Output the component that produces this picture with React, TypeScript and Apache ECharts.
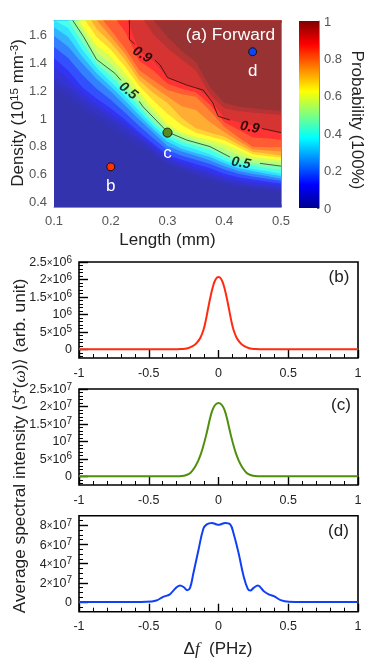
import React, { useEffect, useRef } from "react";
import * as echarts from "echarts";

const FONT = '"Liberation Sans", Arial, sans-serif';

// Panel (a): length columns, and for every probability level the density at which it is reached
const LENGTHS = [0.1, 0.125, 0.15, 0.175, 0.2, 0.225, 0.25, 0.275, 0.3, 0.325, 0.35, 0.375, 0.4, 0.425, 0.45, 0.475, 0.5];
const LEVEL_VALUES = [0.02, 0.035, 0.05, 0.09, 0.13, 0.19, 0.25, 0.31, 0.37, 0.43, 0.5, 0.55, 0.6, 0.65, 0.7, 0.75, 0.8, 0.85, 0.9, 0.95, 0.98];
const L02 = [1.22, 1.14, 1.06, 0.99, 0.93, 0.86, 0.8, 0.73, 0.66, 0.62, 0.58, 0.55, 0.52, 0.5, 0.49, 0.48, 0.47];
const L035 = [1.26, 1.18, 1.1, 1.03, 0.97, 0.9, 0.83, 0.76, 0.68, 0.64, 0.6, 0.57, 0.54, 0.52, 0.505, 0.495, 0.485];
const L05 = [1.3, 1.22, 1.14, 1.07, 1.0, 0.93, 0.855, 0.78, 0.7, 0.66, 0.625, 0.595, 0.56, 0.535, 0.52, 0.51, 0.5];
const L09 = [1.37, 1.28, 1.18, 1.1, 1.03, 0.96, 0.88, 0.8, 0.72, 0.68, 0.645, 0.615, 0.58, 0.555, 0.54, 0.53, 0.515];
const L13 = [1.43, 1.34, 1.22, 1.14, 1.07, 0.99, 0.9, 0.815, 0.735, 0.7, 0.67, 0.64, 0.6, 0.575, 0.56, 0.545, 0.53];
const L19 = [1.51, 1.43, 1.31, 1.21, 1.13, 1.04, 0.945, 0.855, 0.77, 0.73, 0.7, 0.67, 0.63, 0.6, 0.58, 0.565, 0.55];
const L25 = [1.59, 1.51, 1.39, 1.28, 1.19, 1.09, 0.99, 0.895, 0.8, 0.76, 0.73, 0.695, 0.655, 0.62, 0.6, 0.585, 0.565];
const L31 = [1.65, 1.58, 1.44, 1.32, 1.225, 1.125, 1.02, 0.92, 0.83, 0.78, 0.75, 0.72, 0.675, 0.64, 0.62, 0.6, 0.585];
const L37 = [1.7, 1.645, 1.49, 1.36, 1.26, 1.16, 1.05, 0.945, 0.855, 0.805, 0.775, 0.74, 0.695, 0.66, 0.635, 0.62, 0.6];
const L43 = [1.8, 1.7, 1.54, 1.39, 1.3, 1.195, 1.08, 0.97, 0.88, 0.83, 0.8, 0.77, 0.72, 0.68, 0.66, 0.64, 0.63];
const L50 = [1.9, 1.75, 1.59, 1.42, 1.34, 1.23, 1.11, 1.0, 0.9, 0.855, 0.825, 0.795, 0.745, 0.705, 0.68, 0.665, 0.655];
const L55 = [1.95, 1.8, 1.63, 1.47, 1.39, 1.275, 1.15, 1.035, 0.93, 0.88, 0.845, 0.815, 0.78, 0.735, 0.7, 0.69, 0.68];
const L60 = [2.0, 1.85, 1.66, 1.52, 1.44, 1.32, 1.19, 1.07, 0.957, 0.9, 0.866, 0.84, 0.814, 0.77, 0.723, 0.71, 0.7];
const L65 = [2.05, 1.9, 1.73, 1.58, 1.49, 1.37, 1.23, 1.125, 1.03, 0.95, 0.895, 0.867, 0.84, 0.79, 0.74, 0.727, 0.715];
const L70 = [2.1, 1.95, 1.8, 1.64, 1.54, 1.42, 1.27, 1.18, 1.107, 1.0, 0.926, 0.895, 0.866, 0.81, 0.758, 0.745, 0.73];
const L75 = [2.15, 2.0, 1.86, 1.7, 1.585, 1.46, 1.305, 1.225, 1.155, 1.085, 1.057, 0.97, 0.9, 0.835, 0.776, 0.767, 0.76];
const L80 = [2.2, 2.05, 1.92, 1.76, 1.63, 1.5, 1.344, 1.27, 1.2, 1.17, 1.153, 1.05, 0.937, 0.86, 0.794, 0.79, 0.79];
const L85 = [2.3, 2.12, 2.0, 1.88, 1.76, 1.62, 1.41, 1.34, 1.245, 1.21, 1.185, 1.095, 0.97, 0.915, 0.86, 0.855, 0.845];
const L90 = [2.4, 2.2, 2.1, 2.0, 1.9, 1.75, 1.48, 1.41, 1.29, 1.25, 1.22, 1.14, 1.0, 0.97, 0.945, 0.92, 0.895];
const L95 = [2.6, 2.5, 2.4, 2.3, 2.2, 2.0, 1.75, 1.6, 1.5, 1.42, 1.34, 1.17, 1.07, 1.05, 1.04, 1.03, 1.02];
const L98 = [2.7, 2.6, 2.5, 2.4, 2.3, 2.1, 1.85, 1.7, 1.58, 1.48, 1.4, 1.22, 1.11, 1.08, 1.07, 1.06, 1.05];
const LEVEL_TABLE = [L02, L035, L05, L09, L13, L19, L25, L31, L37, L43, L50, L55, L60, L65, L70, L75, L80, L85, L90, L95, L98];

const CONTOUR_05 = [[0.133, 1.7], [0.152, 1.583], [0.175, 1.42], [0.2075, 1.32], [0.218, 1.27], [null, null], [0.25, 1.12], [0.257, 1.08], [0.3, 0.9], [0.334, 0.842], [0.375, 0.795], [0.41, 0.72], [null, null], [0.463, 0.675], [0.5, 0.655]];
const CONTOUR_09 = [[0.233, 1.7], [0.233, 1.564], [0.242, 1.53], [null, null], [0.278, 1.415], [0.287, 1.38], [0.3, 1.29], [0.334, 1.236], [0.363, 1.2], [0.38, 1.107], [0.389, 1.013], [0.41, 0.985], [null, null], [0.466, 0.925], [0.5, 0.895]];
const CONTOUR_LABELS = [
  { value: [0.232, 1.2], name: "0.5", rot: -38 },
  { value: [0.2563, 1.46], name: "0.9", rot: -32 },
  { value: [0.43, 0.685], name: "0.5", rot: -10 },
  { value: [0.4455, 0.94], name: "0.9", rot: -10 },
];
const POINTS = [
  { value: [0.2, 0.65], name: "b", color: "#ff3300", size: 8 },
  { value: [0.3, 0.895], name: "c", color: "#5a8a1e", size: 9 },
  { value: [0.45, 1.475], name: "d", color: "#0a46f5", size: 8 },
];

const DENSITY_TICKS = [0.4, 0.6, 0.8, 1, 1.2, 1.4, 1.6];

const JET_STOPS = [
  [0, 0, 0, 143], [0.125, 0, 0, 255], [0.375, 0, 255, 255],
  [0.625, 255, 255, 0], [0.875, 255, 0, 0], [1, 128, 0, 0],
];

// Panels (b), (c), (d)
const B_F = [-1, -0.5, -0.3, -0.265, -0.228, -0.2, -0.17, -0.156, -0.13, -0.108, -0.09, -0.072, -0.055, -0.036, -0.018, 0, 0.018, 0.036, 0.055, 0.072, 0.09, 0.108, 0.13, 0.156, 0.17, 0.2, 0.228, 0.265, 0.3, 0.5, 1];
const B_S = [0, 0, 0.002e6, 0.006e6, 0.02e6, 0.06e6, 0.13e6, 0.18e6, 0.33e6, 0.55e6, 0.85e6, 1.22e6, 1.55e6, 1.85e6, 2.02e6, 2.07e6, 2.02e6, 1.85e6, 1.55e6, 1.22e6, 0.85e6, 0.55e6, 0.33e6, 0.18e6, 0.13e6, 0.06e6, 0.02e6, 0.006e6, 0.002e6, 0, 0];
const C_F = [-1, -0.5, -0.3, -0.265, -0.23, -0.2, -0.17, -0.145, -0.13, -0.115, -0.09, -0.072, -0.06, -0.04, -0.02, 0, 0.02, 0.04, 0.06, 0.072, 0.09, 0.115, 0.13, 0.145, 0.17, 0.2, 0.23, 0.265, 0.3, 0.5, 1];
const C_S = [0, 0, 0, 0.05e6, 0.35e6, 1e6, 2.6e6, 4.5e6, 6e6, 7.8e6, 11.5e6, 14.6e6, 16.7e6, 19.3e6, 20.6e6, 21e6, 20.6e6, 19.3e6, 16.7e6, 14.6e6, 11.5e6, 7.8e6, 6e6, 4.5e6, 2.6e6, 1e6, 0.35e6, 0.05e6, 0, 0, 0];
const D_F = [-1, -0.7, -0.517, -0.445, -0.397, -0.349, -0.313, -0.276, -0.248, -0.224, -0.204, -0.18, -0.144, -0.108, -0.084, -0.048, -0.012, 0, 0.012, 0.048, 0.084, 0.108, 0.144, 0.18, 0.21, 0.228, 0.252, 0.281, 0.325, 0.36, 0.397, 0.445, 0.505, 0.7, 1];
const D_S = [0, 0, 0.03e7, 0.17e7, 0.55e7, 0.8e7, 1.37e7, 1.72e7, 1.55e7, 1.24e7, 1.48e7, 3e7, 5.4e7, 7.66e7, 8.1e7, 8.25e7, 8.08e7, 8.05e7, 8.08e7, 8.25e7, 8.1e7, 7.15e7, 5.1e7, 2.7e7, 1.37e7, 1.2e7, 1.48e7, 1.72e7, 1.13e7, 0.8e7, 0.62e7, 0.2e7, 0.03e7, 0, 0];

const B_TICKS = [0, 5e5, 1e6, 1.5e6, 2e6, 2.5e6];
const B_MINOR = [-2e5, -1e5, 1e5, 2e5, 3e5, 4e5, 6e5, 7e5, 8e5, 9e5, 1.1e6, 1.2e6, 1.3e6, 1.4e6, 1.6e6, 1.7e6, 1.8e6, 1.9e6, 2.1e6, 2.2e6, 2.3e6, 2.4e6];
const C_TICKS = [0, 5e6, 1e7, 1.5e7, 2e7, 2.5e7];
const C_MINOR = [-2e6, -1e6, 1e6, 2e6, 3e6, 4e6, 6e6, 7e6, 8e6, 9e6, 1.1e7, 1.2e7, 1.3e7, 1.4e7, 1.6e7, 1.7e7, 1.8e7, 1.9e7, 2.1e7, 2.2e7, 2.3e7, 2.4e7];
const D_TICKS = [0, 2e7, 4e7, 6e7, 8e7];
const D_MINOR = [-0.5e7, 0.5e7, 1e7, 1.5e7, 2.5e7, 3e7, 3.5e7, 4.5e7, 5e7, 5.5e7, 6.5e7, 7e7, 7.5e7, 8.5e7];

function jet(v: number): number[] {
  for (let i = 1; i < JET_STOPS.length; i++) {
    const a = JET_STOPS[i - 1], b = JET_STOPS[i];
    if (v <= b[0]) {
      const t = (v - a[0]) / (b[0] - a[0]);
      return [1, 2, 3].map((k) => a[k] + (b[k] - a[k]) * t);
    }
  }
  return JET_STOPS[JET_STOPS.length - 1].slice(1);
}
const rgb = (c: number[]) => `rgb(${c.map((x) => Math.round(x)).join(",")})`;
// the map is painted at 80% over white
const faded = (v: number) => rgb(jet(v).map((x) => x * 0.8 + 255 * 0.2));

function sciLabel(v: number) {
  if (v === 0) return "{b|0}";
  const e = Math.floor(Math.log10(v) + 1e-9);
  const m = Math.round((v / Math.pow(10, e)) * 10) / 10;
  return m === 1 ? `{b|10}{s|${e}}` : `{b|${m}}{x|×}{b|10}{s|${e}}`;
}
const SCI_RICH = {
  b: { fontFamily: FONT, fontSize: 12.5, color: "#222" },
  x: { fontFamily: FONT, fontSize: 10, color: "#222" },
  s: { fontFamily: FONT, fontSize: 10, color: "#222", padding: [0, 0, 6, 0] },
};

const PLOTS = [
  { top: 262, min: -2.5e5, max: 2.5e6, f: B_F, s: B_S, ticks: B_TICKS, minor: B_MINOR, color: "#ff2a10" },
  { top: 389, min: -2.5e6, max: 2.5e7, f: C_F, s: C_S, ticks: C_TICKS, minor: C_MINOR, color: "#4f8f0c" },
  { top: 515.7, min: -1e7, max: 9e7, f: D_F, s: D_S, ticks: D_TICKS, minor: D_MINOR, color: "#1040f5" },
];

function buildOption() {
  const grid: any[] = [
    { left: 54, top: 20.5, width: 227, height: 186.5 },
    { left: 299, top: 21, width: 20, height: 187 },
  ];
  const GREY = "#8e8e8e";
  const TXT = "#555";
  const xAxis: any[] = [
    {
      gridIndex: 0, type: "value", min: 0.1, max: 0.5, interval: 0.1, position: "bottom",
      axisLine: { show: true, onZero: false, lineStyle: { color: GREY, width: 1 } },
      axisTick: { show: true, inside: true, length: 2.5, lineStyle: { color: "#666" } },
      axisLabel: { color: TXT, fontFamily: FONT, fontSize: 13, margin: 7, showMaxLabel: true, showMinLabel: true, formatter: (v: number) => v.toFixed(1) },
      splitLine: { show: false },
    },
    {
      gridIndex: 0, type: "value", min: 0.1, max: 0.5, interval: 0.1, position: "top",
      axisLine: { show: true, onZero: false, lineStyle: { color: GREY, width: 1 } },
      axisTick: { show: true, inside: true, length: 2.5, lineStyle: { color: "#666" } },
      axisLabel: { show: false }, splitLine: { show: false },
    },
    { gridIndex: 1, type: "category", data: ["Probability"], show: false },
  ];
  const yAxis: any[] = [
    {
      gridIndex: 0, type: "value", min: 0.362, max: 1.699, position: "left",
      axisLine: { show: true, onZero: false, lineStyle: { color: GREY, width: 1 } },
      axisTick: { show: true, inside: true, length: 2.5, customValues: DENSITY_TICKS, lineStyle: { color: "#666" } },
      axisLabel: { color: TXT, fontFamily: FONT, fontSize: 13, margin: 7, customValues: DENSITY_TICKS, formatter: (v: number) => String(Math.round(v * 10) / 10) },
      splitLine: { show: false },
    },
    {
      gridIndex: 0, type: "value", min: 0.362, max: 1.699, position: "right",
      axisLine: { show: true, onZero: false, lineStyle: { color: GREY, width: 1 } },
      axisTick: { show: true, inside: true, length: 2.5, customValues: DENSITY_TICKS, lineStyle: { color: "#666" } },
      axisLabel: { show: false }, splitLine: { show: false },
    },
    {
      gridIndex: 1, type: "value", min: 0, max: 1, interval: 0.2, position: "right",
      axisLine: { show: true, onZero: false, lineStyle: { color: GREY, width: 1 } },
      axisTick: { show: true, inside: true, length: 2, lineStyle: { color: "#666" } },
      axisLabel: { color: TXT, fontFamily: FONT, fontSize: 13, margin: 5, formatter: (v: number) => String(Math.round(v * 10) / 10) },
      splitLine: { show: false },
    },
  ];
  const series: any[] = [
    {
      type: "custom", coordinateSystem: "cartesian2d", xAxisIndex: 0, yAxisIndex: 0, clip: true, silent: true,
      data: [-1, ...LEVEL_VALUES.map((_, i) => i)].map((k) => [k, k]),
      encode: { x: 0, y: 1 },
      renderItem: (params: any, api: any) => {
        const k = params.dataIndex - 1;
        if (k < 0) {
          const p0 = api.coord([0.1, 0.362]);
          const p1 = api.coord([0.5, 1.699]);
          return { type: "rect", shape: { x: p0[0], y: p1[1], width: p1[0] - p0[0], height: p0[1] - p1[1] }, style: { fill: faded(0.012) } };
        }
        const row = LEVEL_TABLE[k];
        const pts = LENGTHS.map((x, i) => api.coord([x, row[i]]));
        pts.push(api.coord([0.5, 3]));
        pts.push(api.coord([0.1, 3]));
        const next = LEVEL_VALUES[k + 1];
        const val = next === undefined ? 1 : (LEVEL_VALUES[k] + next) / 2;
        return { type: "polygon", shape: { points: pts }, style: { fill: faded(val) } };
      },
    },
    {
      type: "line", xAxisIndex: 0, yAxisIndex: 0, data: CONTOUR_05, showSymbol: false, symbol: "none", silent: true,
      lineStyle: { color: "#2c3a2c", width: 0.8 }, connectNulls: false, clip: true,
    },
    {
      type: "line", xAxisIndex: 0, yAxisIndex: 0, data: CONTOUR_09, showSymbol: false, symbol: "none", silent: true,
      lineStyle: { color: "#2a1010", width: 0.8 }, connectNulls: false, clip: true,
    },
    {
      type: "scatter", xAxisIndex: 0, yAxisIndex: 0, symbolSize: 0, silent: true,
      data: CONTOUR_LABELS.map((d) => ({
        value: d.value, name: d.name,
        label: { show: true, position: "inside", formatter: "{b}", rotate: d.rot, color: "#000", fontFamily: FONT, fontSize: 14, fontWeight: "bold", fontStyle: "italic" },
      })),
    },
    {
      type: "scatter", xAxisIndex: 0, yAxisIndex: 0, silent: true, z: 5,
      data: POINTS.map((d) => ({
        value: d.value, name: d.name, symbolSize: d.size,
        itemStyle: { color: d.color, borderColor: "#111", borderWidth: 1, opacity: 1 },
        label: { show: true, position: "bottom", distance: 6, formatter: "{b}", color: "#fff", fontFamily: FONT, fontSize: 17 },
      })),
    },
    {
      type: "bar", xAxisIndex: 2, yAxisIndex: 2, data: [1], barWidth: "100%", silent: true,
      itemStyle: {
        color: new echarts.graphic.LinearGradient(0, 1, 0, 0, JET_STOPS.map((s) => ({ offset: s[0], color: rgb(s.slice(1)) }))),
      },
    },
  ];

  PLOTS.forEach((p) => {
    const g = grid.length;
    grid.push({ left: 79, top: p.top, width: 279, height: 96, show: true, borderColor: "#000", borderWidth: 1.6, backgroundColor: "#fff" });
    const xi = xAxis.length;
    xAxis.push({
      gridIndex: g, type: "value", min: -1, max: 1, interval: 0.5, position: "bottom",
      axisLine: { show: false, onZero: false },
      axisTick: { show: true, inside: true, length: 8, lineStyle: { color: "#000", width: 1.4 } },
      minorTick: { show: true, splitNumber: 5, length: 4, lineStyle: { color: "#000", width: 1 } },
      axisLabel: { color: "#222", fontFamily: FONT, fontSize: 12.5, margin: 8, showMinLabel: true, showMaxLabel: true, formatter: (v: number) => String(v) },
      splitLine: { show: false }, minorSplitLine: { show: false },
    });
    const yi = yAxis.length;
    yAxis.push({
      gridIndex: g, type: "value", min: p.min, max: p.max, position: "left",
      axisLine: { show: false, onZero: false },
      axisTick: { show: true, inside: true, length: 9, customValues: p.ticks, lineStyle: { color: "#000", width: 1.4 } },
      axisLabel: { customValues: p.ticks, margin: 7, showMaxLabel: true, formatter: sciLabel, rich: SCI_RICH },
      splitLine: { show: false },
    });
    yAxis.push({
      gridIndex: g, type: "value", min: p.min, max: p.max, position: "left",
      axisLine: { show: false, onZero: false },
      axisTick: { show: true, inside: true, length: 4, customValues: p.minor, lineStyle: { color: "#000", width: 1 } },
      axisLabel: { show: false }, splitLine: { show: false },
    });
    series.push({
      type: "line", xAxisIndex: xi, yAxisIndex: yi, data: p.f.map((x, i) => [x, p.s[i]]),
      showSymbol: false, symbol: "none", smooth: 0.4, silent: true, z: 4,
      lineStyle: { color: p.color, width: 2 },
    });
  });

  const txt = (x: number, y: number, text: string, fontSize: number, fill: string, rotation = 0) => ({
    type: "text", x, y, rotation, silent: true, z: 10,
    style: { text, fontFamily: FONT, fontSize, fill, align: "center", verticalAlign: "middle" },
  });

  const graphic = [
    txt(230.5, 34, "(a) Forward", 17.3, "#fff"),
    txt(167.5, 239, "Length (mm)", 17, "#222"),
    txt(339, 276.5, "(b)", 17, "#222"),
    txt(341, 404, "(c)", 17, "#222"),
    txt(338.5, 530, "(d)", 17, "#222"),
    txt(357, 120, "Probability (100%)", 17, "#222", -Math.PI / 2),
    {
      type: "text", x: 17, y: 113, rotation: Math.PI / 2, silent: true, z: 10,
      style: {
        text: "{a|Density (10}{s|15}{a| mm}{s|-3}{a|)}", align: "center", verticalAlign: "middle",
        rich: {
          a: { fontFamily: FONT, fontSize: 17, fill: "#222" },
          s: { fontFamily: FONT, fontSize: 11.5, fill: "#222", padding: [0, 0, 7, 0] },
        },
      },
    },
    {
      type: "text", x: 19, y: 446, rotation: Math.PI / 2, silent: true, z: 10,
      style: {
        text: "{a|Average spectral intensity ⟨}{i|S}{s|+}{a|(}{i|ω}{a|)⟩ (arb. unit)}", align: "center", verticalAlign: "middle",
        rich: {
          a: { fontFamily: FONT, fontSize: 17.3, fill: "#222" },
          i: { fontFamily: '"Liberation Serif", serif', fontStyle: "italic", fontSize: 17.3, fill: "#222" },
          s: { fontFamily: FONT, fontSize: 12, fill: "#222", padding: [0, 0, 7, 0] },
        },
      },
    },
    {
      type: "text", x: 218, y: 648, silent: true, z: 10,
      style: {
        text: "{a|Δ}{i|f}{a|  (PHz)}", align: "center", verticalAlign: "middle",
        rich: {
          a: { fontFamily: FONT, fontSize: 17, fill: "#222" },
          i: { fontFamily: '"Liberation Serif", serif', fontStyle: "italic", fontSize: 17, fill: "#222" },
        },
      },
    },
  ];

  return { animation: false, backgroundColor: "#fff", grid, xAxis, yAxis, series, graphic };
}

export default function App() {
  const ref = useRef<HTMLDivElement>(null);
  useEffect(() => {
    const chart = echarts.init(ref.current!, undefined, { renderer: "svg" });
    chart.setOption(buildOption() as any);
    return () => chart.dispose();
  }, []);
  return <div ref={ref} style={{ position: "absolute", left: 0, top: 0, width: 374, height: 668, filter: "blur(0.4px)" }} />;
}
